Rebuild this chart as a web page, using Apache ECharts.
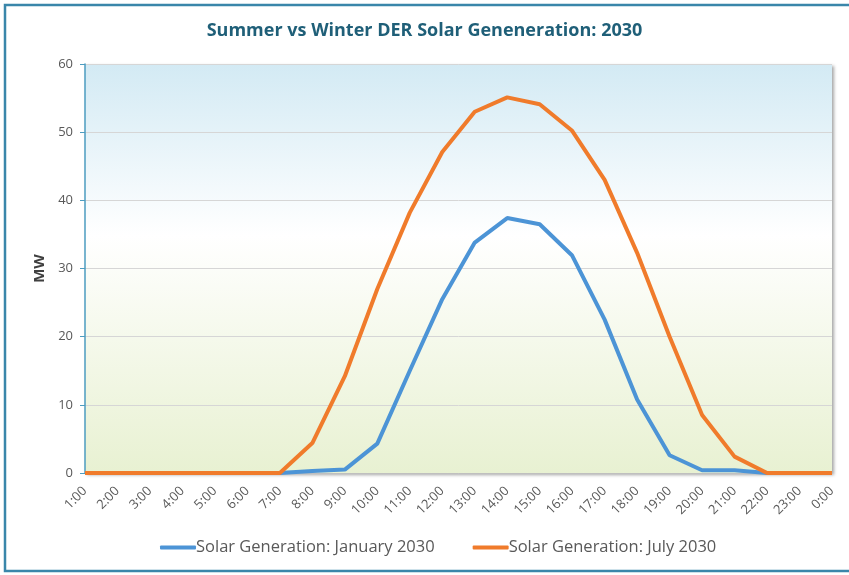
<!DOCTYPE html>
<html>
<head>
<meta charset="utf-8">
<script src="https://cdn.jsdelivr.net/npm/echarts@6/dist/echarts.min.js"></script>
<style>html,body{margin:0;padding:0;background:#fff;}#c{width:849px;height:575px;}</style>
</head>
<body>
<div id="c"></div>
<script>
const hours = ['1:00','2:00','3:00','4:00','5:00','6:00','7:00','8:00','9:00','10:00','11:00','12:00','13:00','14:00','15:00','16:00','17:00','18:00','19:00','20:00','21:00','22:00','23:00','0:00'];
const january = [0,0,0,0,0,0,0,0.3,0.5,4.3,15,25.5,33.8,37.4,36.5,31.9,22.5,10.8,2.6,0.4,0.4,0,0,0];
const july = [0,0,0,0,0,0,0,4.4,14.2,27,38.2,47.1,53,55.1,54.1,50.2,43,32.3,20,8.5,2.4,0,0,0];
const yTicks = [0,10,20,30,40,50,60];

const chart = echarts.init(document.getElementById('c'));
chart.setOption({
  animation: false,
  backgroundColor: '#ffffff',
  textStyle: {fontFamily: 'Open Sans'},
  title: {
    text: 'Summer vs Winter DER Solar Geneneration: 2030',
    left: 'center', top: 17,
    textStyle: {fontFamily: 'Open Sans', fontSize: 18, fontWeight: 'bold', color: '#1f5f78'}
  },
  graphic: [{
    type: 'rect', silent: true, z: 100,
    shape: {x: 5, y: 5, width: 860, height: 566},
    style: {fill: 'none', stroke: '#3a86aa', lineWidth: 2.5}
  }],
  legend: {
    bottom: 14, left: 155, itemGap: 38, itemWidth: 36, itemHeight: 4,
    icon: 'roundRect',
    textStyle: {color: '#595959', fontSize: 16.5, fontFamily: 'Open Sans', padding: [0,0,0,-5]},
    data: ['Solar Generation: January 2030', 'Solar Generation: July 2030']
  },
  grid: {
    left: 85, right: 17, top: 64, bottom: 102,
    show: true, borderWidth: 0,
    backgroundColor: new echarts.graphic.LinearGradient(0,0,0,1,[
      {offset: 0, color: '#d3eaf4'},
      {offset: 0.42, color: '#ffffff'},
      {offset: 1, color: '#e8f1d2'}
    ]),
    shadowColor: 'rgba(0,0,0,0.35)', shadowBlur: 3, shadowOffsetX: 2, shadowOffsetY: 2
  },
  xAxis: {
    type: 'category', data: hours, boundaryGap: false,
    axisLine: {show: true, lineStyle: {color: '#bfbfbf'}},
    axisTick: {show: false},
    axisLabel: {rotate: 45, color: '#595959', fontSize: 13, margin: 16, interval: 0}
  },
  yAxis: {
    type: 'value', min: 0, max: 60, interval: 10,
    name: 'MW', nameLocation: 'middle', nameGap: 38, nameRotate: 90,
    nameTextStyle: {fontWeight: 'bold', fontSize: 15, color: '#404040'},
    axisLine: {show: true, lineStyle: {color: '#4d9cc0', width: 1.5}},
    axisTick: {show: true, length: 5, lineStyle: {color: '#4d9cc0'}},
    axisLabel: {color: '#595959', fontSize: 13, margin: 12, formatter: v => yTicks.includes(v) ? String(v) : ''},
    splitLine: {lineStyle: {color: '#d6d6d6'}}
  },
  series: [
    {name: 'Solar Generation: January 2030', type: 'line', data: january, symbol: 'none',
     lineStyle: {color: '#4c94d6', width: 4}, itemStyle: {color: '#4c94d6'}, z: 2},
    {name: 'Solar Generation: July 2030', type: 'line', data: july, symbol: 'none',
     lineStyle: {color: '#f07b2b', width: 4}, itemStyle: {color: '#f07b2b'}, z: 3}
  ]
});
</script>
</body>
</html>
